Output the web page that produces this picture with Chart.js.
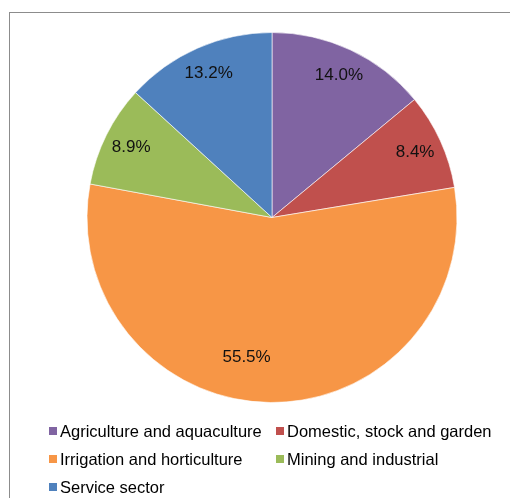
<!DOCTYPE html>
<html>
<head>
<meta charset="utf-8">
<script src="https://cdn.jsdelivr.net/npm/chart.js"></script>
<style>
  html, body { margin: 0; padding: 0; background: #fff; overflow: hidden; }
  #wrap { position: relative; width: 510px; height: 498px; }
  #frame { position: absolute; left: 9px; top: 12px; width: 520px; height: 500px; border: 1px solid #8c8c8c; box-sizing: border-box; }
  canvas { position: absolute; left: 0; top: 0; }
</style>
</head>
<body>
<div id="wrap">
  <div id="frame"></div>
  <canvas id="myChart" width="510" height="498"></canvas>
</div>
<script>
// Data
const categories = ['Agriculture and aquaculture', 'Domestic, stock and garden', 'Irrigation and horticulture', 'Mining and industrial', 'Service sector'];
const shares = [14.0, 8.4, 55.5, 8.9, 13.2];
const colors = ['#8064A2', '#C0504D', '#F79646', '#9BBB59', '#4F81BD'];

const FONT = '"Liberation Sans", Arial, sans-serif';

// Percent labels inside slices
const sliceLabels = {
    id: 'sliceLabels',
    afterDatasetsDraw(chart) {
        const c = chart.ctx;
        const meta = chart.getDatasetMeta(0);
        c.save();
        c.font = '17px ' + FONT;
        c.fillStyle = '#111';
        c.textAlign = 'center';
        c.textBaseline = 'middle';
        meta.data.forEach((arc, i) => {
            const p = arc.getProps(['x', 'y', 'startAngle', 'endAngle', 'outerRadius'], true);
            let mid = (p.startAngle + p.endAngle) / 2;
            let r = p.outerRadius * 0.85;
            if (shares[i] > 50) { mid += 0.17; r = p.outerRadius * 0.77; }
            c.fillText(shares[i].toFixed(1) + '%', p.x + Math.cos(mid) * r, p.y + Math.sin(mid) * r);
        });
        c.restore();
    }
};

// Legend in a 2-column grid, like the original
const gridLegend = {
    id: 'gridLegend',
    afterDraw(chart) {
        const c = chart.ctx;
        const colX = [49, 276];
        const rowY = [431, 459, 487];
        c.save();
        c.font = '16.5px ' + FONT;
        c.textBaseline = 'middle';
        categories.forEach((name, i) => {
            const x = colX[i % 2];
            const y = rowY[Math.floor(i / 2)];
            c.fillStyle = colors[i];
            c.fillRect(x, y - 4, 8, 8);
            c.fillStyle = '#000';
            c.fillText(name, x + 11, y + 1);
        });
        c.restore();
    }
};

const ctx = document.getElementById('myChart').getContext('2d');

new Chart(ctx, {
    type: 'pie',
    data: {
        labels: categories,
        datasets: [{
            data: shares,
            backgroundColor: colors,
            borderColor: 'rgba(255,255,255,0.6)',
            borderWidth: 1
        }]
    },
    options: {
        responsive: false,
        animation: false,
        layout: { padding: { left: 86, right: 52, top: 32, bottom: 95 } },
        plugins: {
            legend: { display: false },
            tooltip: { enabled: false }
        }
    },
    plugins: [sliceLabels, gridLegend]
});
</script>
</body>
</html>
